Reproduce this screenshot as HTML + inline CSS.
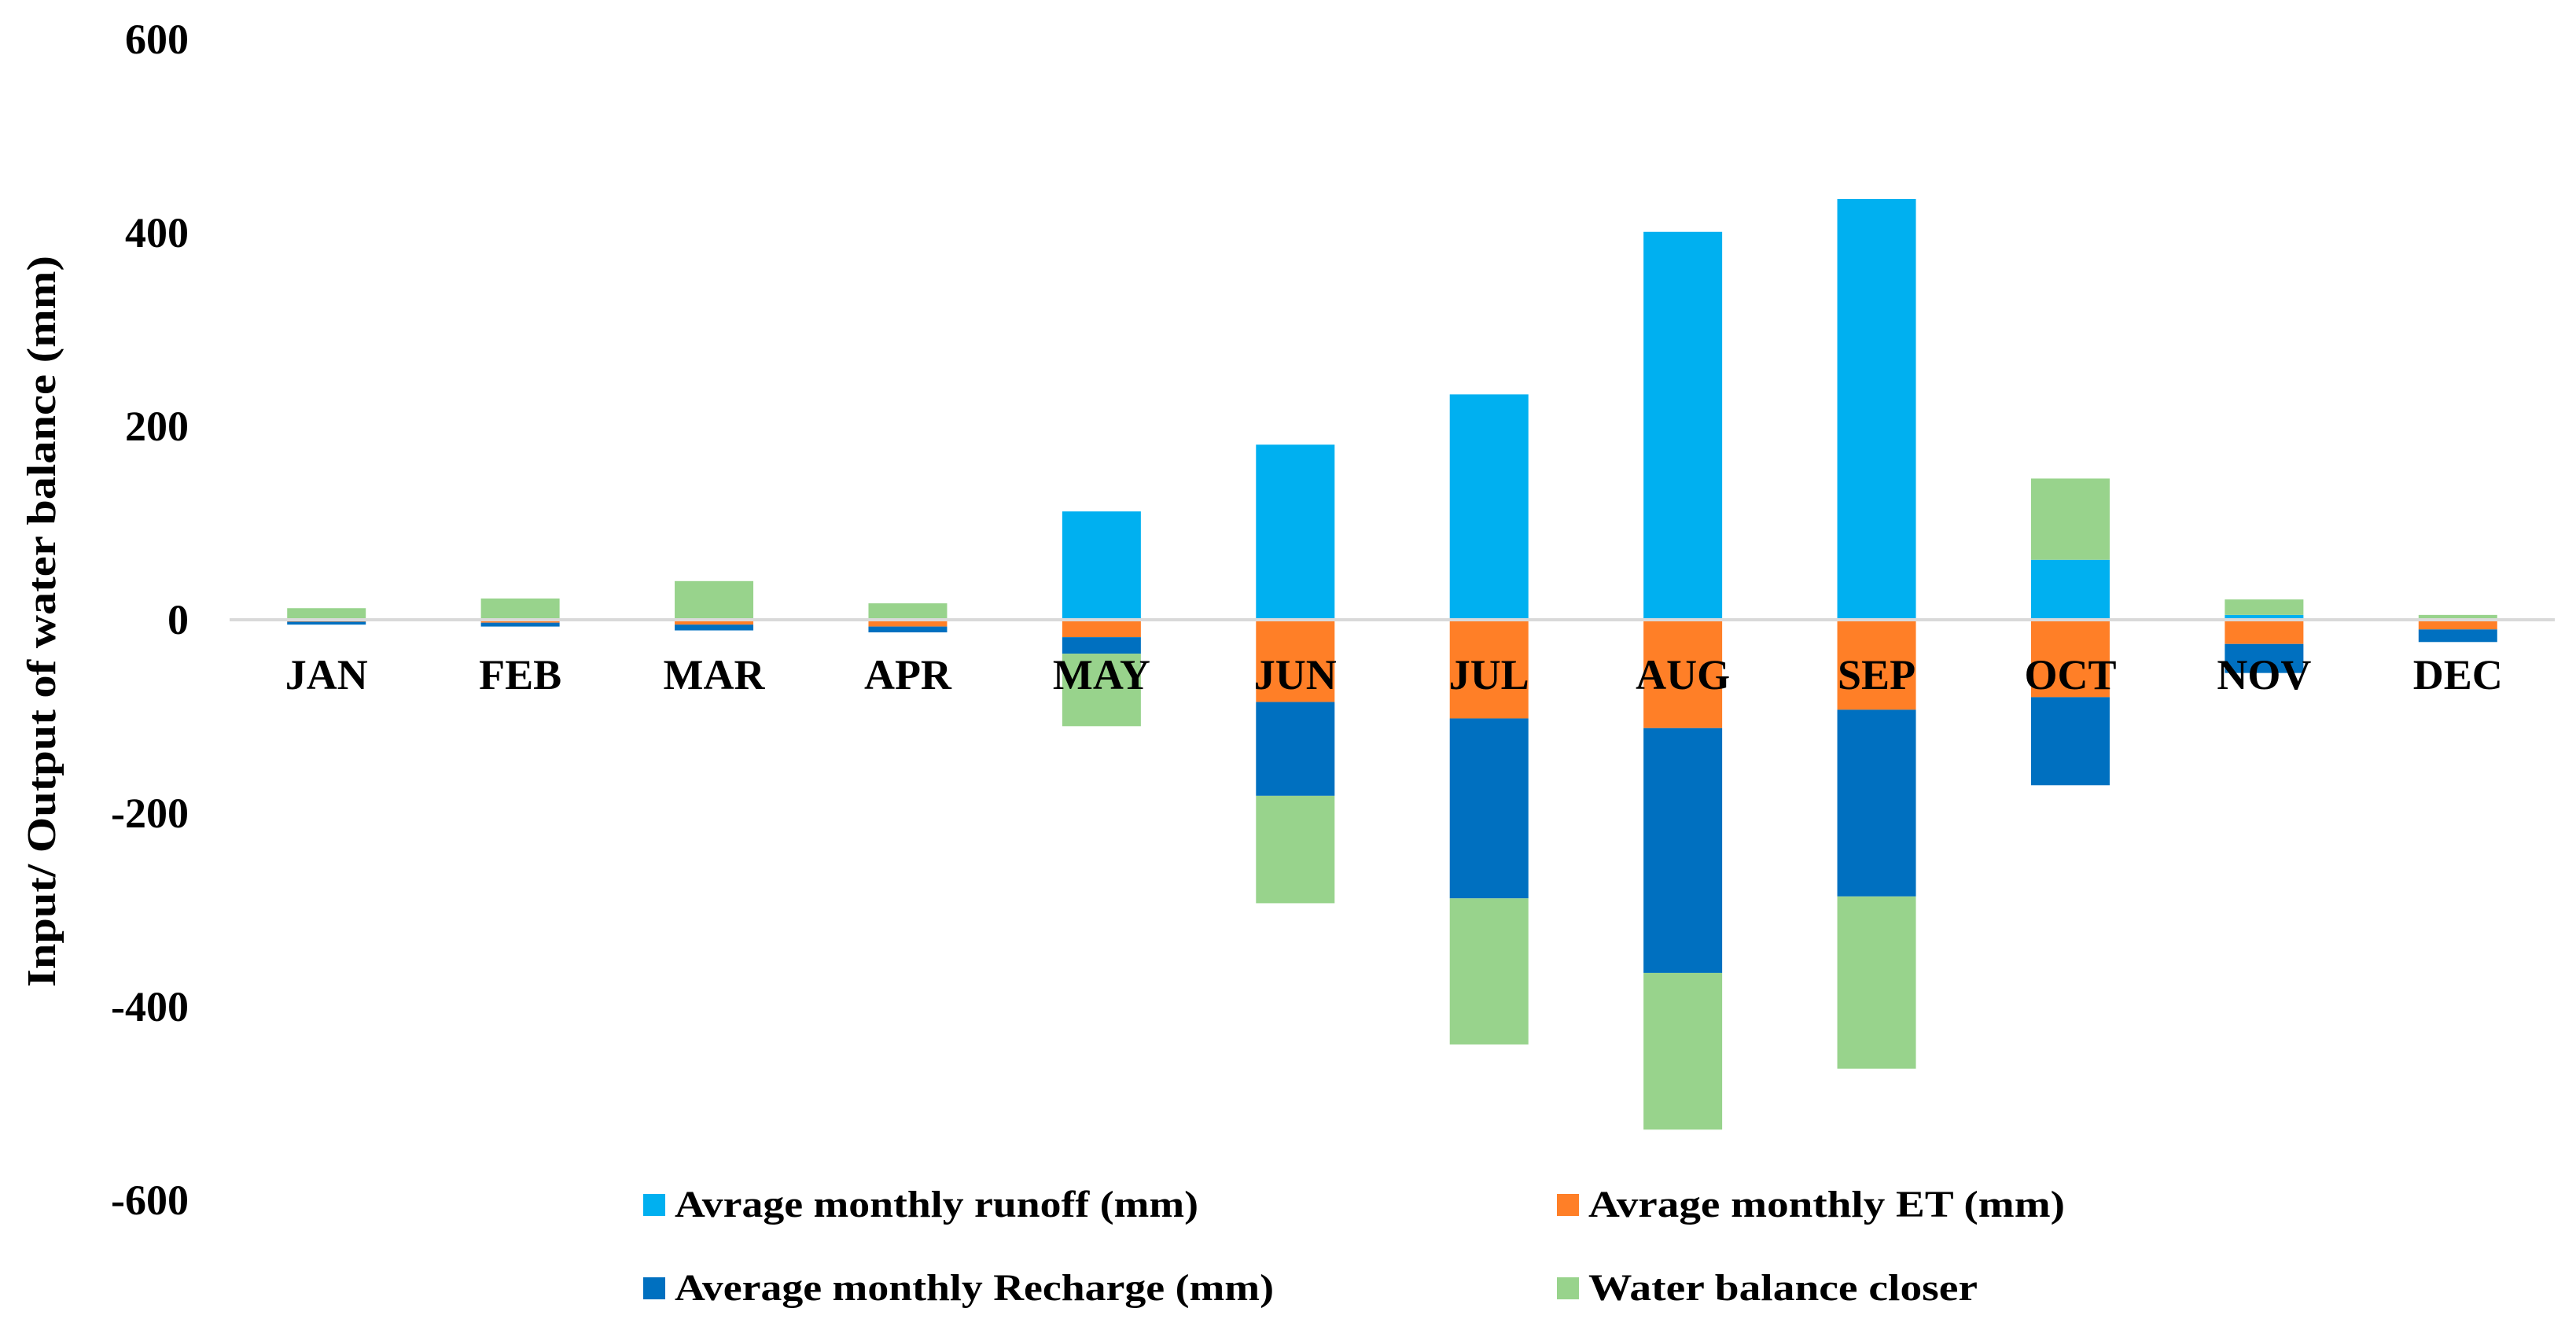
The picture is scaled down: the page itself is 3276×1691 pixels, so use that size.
<!DOCTYPE html>
<html><head><meta charset="utf-8"><style>
html,body{margin:0;padding:0;background:#fff;}
svg{display:block;font-family:"Liberation Serif",serif;font-weight:bold;}
</style></head><body>
<svg id="chart" width="3276" height="1691" viewBox="0 0 3276 1691" xmlns="http://www.w3.org/2000/svg">
<g id="yticks"></g>
<g id="bars"></g>
<line x1="292" y1="788" x2="3249" y2="788" stroke="#d9d9d9" stroke-width="4"/>
<g id="xlabels"></g>
<text transform="translate(70,790) rotate(-90)" text-anchor="middle" font-size="52" textLength="930" lengthAdjust="spacingAndGlyphs">Input/ Output of water balance (mm)</text>
<g font-size="48">
<g><rect x="818" y="1518" width="28" height="28" fill="#00B0F0"/><text x="858" y="1547" textLength="666" lengthAdjust="spacingAndGlyphs">Avrage monthly runoff (mm)</text></g>
<g><rect x="1980" y="1518" width="28" height="28" fill="#FF7F27"/><text x="2020" y="1547" textLength="606" lengthAdjust="spacingAndGlyphs">Avrage monthly ET (mm)</text></g>
<g><rect x="818" y="1624" width="28" height="28" fill="#0070C0"/><text x="858" y="1653" textLength="762" lengthAdjust="spacingAndGlyphs">Average monthly Recharge (mm)</text></g>
<g><rect x="1980" y="1624" width="28" height="28" fill="#98D38C"/><text x="2020" y="1653" textLength="495" lengthAdjust="spacingAndGlyphs">Water balance closer</text></g>
</g>
</svg>
<script>
const months = ["JAN","FEB","MAR","APR","MAY","JUN","JUL","AUG","SEP","OCT","NOV","DEC"];
const runoff = [0,0,0,0,112,181,233,401,435,62,5,0];
const et = [-2,-3,-5,-7,-18,-85,-102,-112,-93,-80,-25,-10];
const recharge = [-3,-4,-6,-6,-17,-97,-186,-253,-193,-91,-30,-13];
const closer = [12,22,40,17,-75,-111,-151,-162,-178,84,16,5];
const yTicks = [600,400,200,0,-200,-400,-600];

const NS = "http://www.w3.org/2000/svg";
const y = v => 788 - 1.23 * v;
const x0 = 292, x1 = 3249, band = (x1 - x0) / months.length;
const xc = i => x0 + band * (i + 0.5);
const barW = 100;

const tg = document.getElementById("yticks");
yTicks.forEach(t => {
  const el = document.createElementNS(NS, "text");
  el.setAttribute("x", 240);
  el.setAttribute("y", y(t) + 18);
  el.setAttribute("text-anchor", "end");
  el.setAttribute("font-size", "54");
  el.textContent = t;
  
  
  tg.appendChild(el);
});

const series = [
  {vals: runoff, color: "#00B0F0", name: "runoff"},
  {vals: et, color: "#FF7F27", name: "et"},
  {vals: recharge, color: "#0070C0", name: "recharge"},
  {vals: closer, color: "#98D38C", name: "closer"}
];
const bg = document.getElementById("bars");
months.forEach((m, i) => {
  let pos = 0, neg = 0;
  series.forEach(s => {
    const v = s.vals[i];
    if (v === 0) return;
    let a, b;
    if (v > 0) { a = pos; b = pos + v; pos = b; } else { a = neg; b = neg + v; neg = b; }
    const r = document.createElementNS(NS, "rect");
    r.setAttribute("x", xc(i) - barW / 2);
    r.setAttribute("y", Math.min(y(a), y(b)));
    r.setAttribute("width", barW);
    r.setAttribute("height", Math.abs(y(a) - y(b)));
    r.setAttribute("fill", s.color);
    
    
    bg.appendChild(r);
  });
});

const xg = document.getElementById("xlabels");
months.forEach((m, i) => {
  const el = document.createElementNS(NS, "text");
  el.setAttribute("x", xc(i));
  el.setAttribute("y", 876);
  el.setAttribute("text-anchor", "middle");
  el.setAttribute("font-size", "54");
  el.textContent = m;
  
  
  xg.appendChild(el);
});
</script>
</body></html>
